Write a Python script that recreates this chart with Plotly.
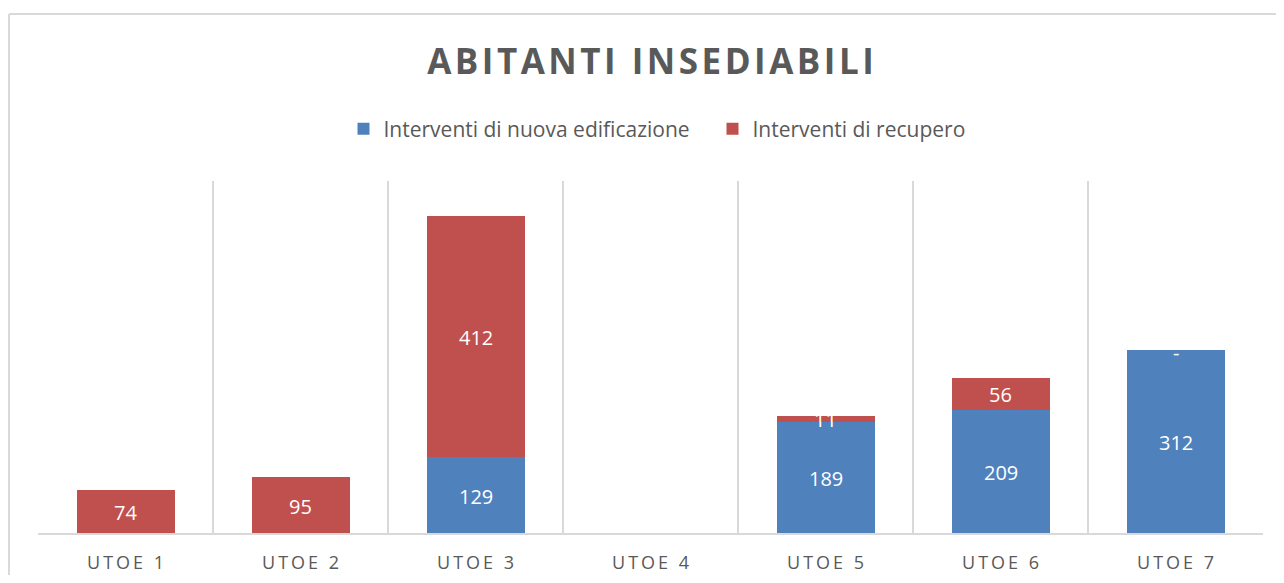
import plotly.graph_objects as go

categories = ["UTOE 1", "UTOE 2", "UTOE 3", "UTOE 4", "UTOE 5", "UTOE 6", "UTOE 7"]
nuova = [None, None, 129, None, 189, 209, 312]
recupero = [74, 95, 412, None, 11, 56, 0]
series_names = ["Interventi di nuova edificazione", "Interventi di recupero"]
title_text = "ABITANTI INSEDIABILI"

BLUE = "#4F81BD"
RED = "#C0504D"
GRAY = "#595959"
GRID = "#D9D9D9"
FONT = "Open Sans"

# page has an 8px body margin; figure sized to fit the 1284x583 window
W, H = 1268, 567
L, R, T, B = 30, 13, 173, 42
pw, ph = W - L - R, H - T - B


def spaced(s, sep="\u2009"):
    return sep.join(list(s))


def lab(v):
    return "-" if v == 0 else str(v)


fig = go.Figure()
fig.add_trace(go.Bar(x=categories, y=[v if v is not None else 0 for v in nuova],
                     name=series_names[0], marker=dict(color=BLUE, line=dict(width=0)),
                     width=0.56, hoverinfo="skip"))
fig.add_trace(go.Bar(x=categories, y=[v if v is not None else 0 for v in recupero],
                     name=series_names[1], marker=dict(color=RED, line=dict(width=0)),
                     width=0.56, hoverinfo="skip"))

# data labels centred in each segment
annotations = []
for c, n, r in zip(categories, nuova, recupero):
    base = n or 0
    for v, mid in ((n, (n or 0) / 2), (r, base + (r or 0) / 2)):
        if v is None:
            continue
        annotations.append(dict(x=c, y=mid, xref="x", yref="y", text=lab(v),
                                showarrow=False, yshift=-3 if v == 0 else -1,
                                font=dict(family=FONT, size=20, color="white")))

fig.update_layout(
    width=W, height=H,
    margin=dict(l=L, r=R, t=T, b=B, autoexpand=False),
    barmode="stack",
    plot_bgcolor="white", paper_bgcolor="white",
    font=dict(family=FONT, color=GRAY),
    title=dict(text="<b>" + spaced(title_text, "\u200a") + "</b>",
               font=dict(family=FONT, size=35, color=GRAY),
               x=0.5, xref="paper", xanchor="center",
               y=1 - 54 / H, yref="container", yanchor="middle"),
    legend=dict(orientation="h", x=0.5 + 62 / pw, xanchor="center", xref="paper",
                y=(H - B - 121) / ph, yanchor="middle", yref="paper",
                font=dict(family=FONT, size=21, color=GRAY),
                itemwidth=30, traceorder="normal",
                entrywidth=324, entrywidthmode="pixels"),
    xaxis=dict(tickmode="array", tickvals=categories,
               ticktext=[spaced(c) for c in categories],
               tickson="boundaries", showgrid=True, gridcolor=GRID, gridwidth=1.5,
               showline=True, linecolor=GRID, linewidth=1.5, ticks="",
               ticklabelstandoff=13, automargin=False,
               tickfont=dict(family=FONT, size=18, color=GRAY),
               range=[-0.5, 6.5], fixedrange=True),
    yaxis=dict(range=[0, 600], visible=False, showgrid=False, zeroline=False,
               automargin=False, fixedrange=True),
    annotations=annotations,
    showlegend=True,
)

# outer chart border (left and top edges visible in the frame)
bx0 = (1 - L) / pw
by0 = (H - B - 6) / ph
fig.add_shape(type="line", xref="paper", yref="paper",
              x0=bx0, x1=bx0, y0=by0, y1=(H - B - 600) / ph,
              line=dict(color=GRID, width=2))
fig.add_shape(type="line", xref="paper", yref="paper",
              x0=bx0, x1=(1300 - L) / pw, y0=by0, y1=by0,
              line=dict(color=GRID, width=2))

fig.write_html("out.html")
